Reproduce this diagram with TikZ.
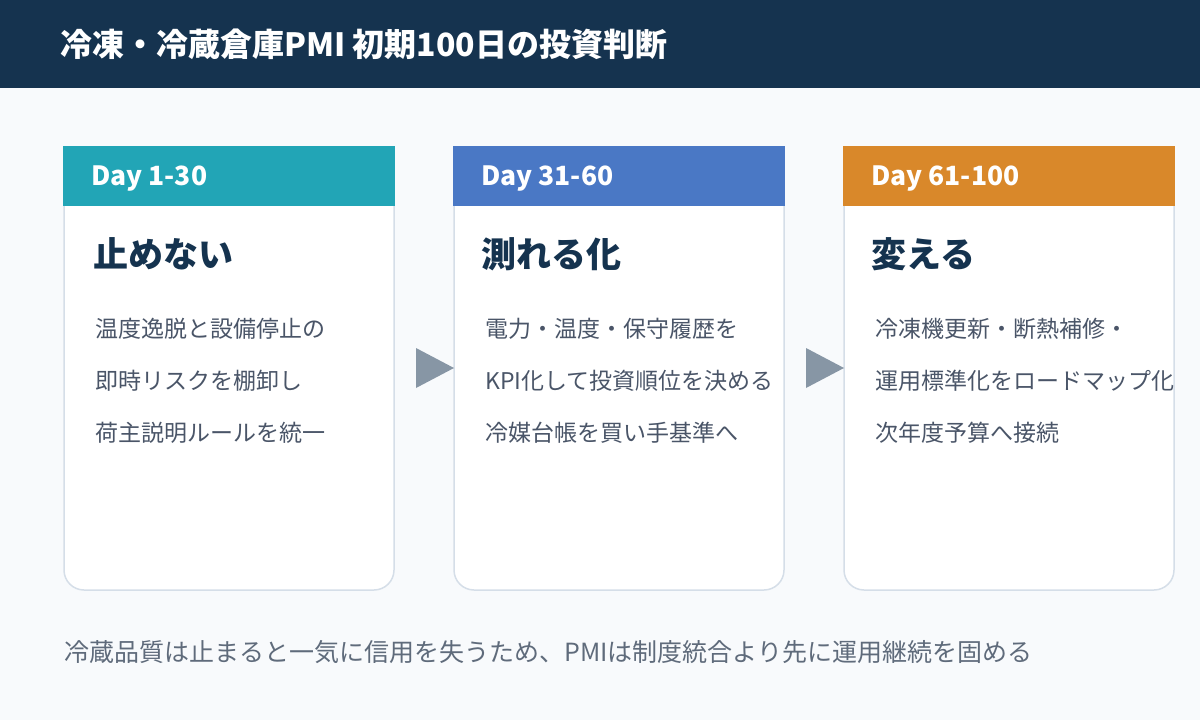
\documentclass[tikz,border=0pt]{standalone}
\usepackage{fontspec}
\setmainfont{Noto Sans CJK JP}
\definecolor{navy}{HTML}{15334F}
\definecolor{bgc}{HTML}{F8FAFC}
\definecolor{bordc}{HTML}{D5DEE8}
\definecolor{tealc}{HTML}{22A5B6}
\definecolor{bluec}{HTML}{4A78C5}
\definecolor{orangec}{HTML}{D9882A}
\definecolor{bodyc}{HTML}{4A5568}
\definecolor{footc}{HTML}{5F6B7B}
\definecolor{arrowc}{HTML}{8796A5}
\tikzset{
  titletext/.style={anchor=base west, inner sep=0, text=white, font=\fontsize{32}{38}\selectfont\bfseries},
  daytext/.style={anchor=base west, inner sep=0, text=white, font=\fontsize{26.5}{30}\selectfont\bfseries},
  headtext/.style={anchor=base west, inner sep=0, text=navy, font=\fontsize{35}{40}\selectfont\bfseries},
  bodytext/.style={anchor=base west, inner sep=0, text=bodyc, font=\fontsize{23}{27}\selectfont},
  foottext/.style={anchor=base west, inner sep=0, text=footc, font=\fontsize{25}{29}\selectfont},
  cardfill/.style={fill=white, rounded corners=20pt},
  cardline/.style={draw=bordc, line width=1.5pt, rounded corners=20pt},
  arrowtri/.style={fill=arrowc},
}
\begin{document}
\begin{tikzpicture}[x=1pt,y=-1pt]
\useasboundingbox (0,0) rectangle (1200,720);
\fill[bgc] (0,0) rectangle (1200,720);
\fill[navy] (0,0) rectangle (1200,88);
\node[titletext] (title) at (60,56) {冷凍・冷蔵倉庫PMI 初期100日の投資判断};
% cards
\foreach \x/\c/\n in {64/tealc/a,454/bluec/b,844/orangec/c}{
  \path[cardfill] (\x,146) -- (\x,590) -- (\x+330,590) -- (\x+330,146) [sharp corners] -- cycle;
  \draw[cardline] (\x,146) -- (\x,590) -- (\x+330,590) -- (\x+330,146);
  \fill[\c] (\x-0.75,146) rectangle (\x+330.75,206);
}
\node[daytext] (d1) at (91,185) {Day 1-30};
\node[daytext] (d2) at (481,185) {Day 31-60};
\node[daytext] (d3) at (871,185) {Day 61-100};
\node[headtext] (h1) at (93,267) {止めない};
\node[headtext] (h2) at (481,267) {測れる化};
\node[headtext] (h3) at (871,267) {変える};
\node[bodytext] (b11) at (95,337) {温度逸脱と設備停止の};
\node[bodytext] (b12) at (95,389) {即時リスクを棚卸し};
\node[bodytext] (b13) at (95,441) {荷主説明ルールを統一};
\node[bodytext] (b21) at (485,337) {電力・温度・保守履歴を};
\node[bodytext] (b22) at (485,389) {KPI化して投資順位を決める};
\node[bodytext] (b23) at (485,441) {冷媒台帳を買い手基準へ};
\node[bodytext] (b31) at (875,337) {冷凍機更新・断熱補修・};
\node[bodytext] (b32) at (875,389) {運用標準化をロードマップ化};
\node[bodytext] (b33) at (875,441) {次年度予算へ接続};
% arrows
\fill[arrowtri] (416,348) -- (454,368) -- (416,388) -- cycle;
\fill[arrowtri] (806,348) -- (844,368) -- (806,388) -- cycle;
\node[foottext] (foot) at (64,661) {冷蔵品質は止まると一気に信用を失うため、PMIは制度統合より先に運用継続を固める};
\end{tikzpicture}
\end{document}
